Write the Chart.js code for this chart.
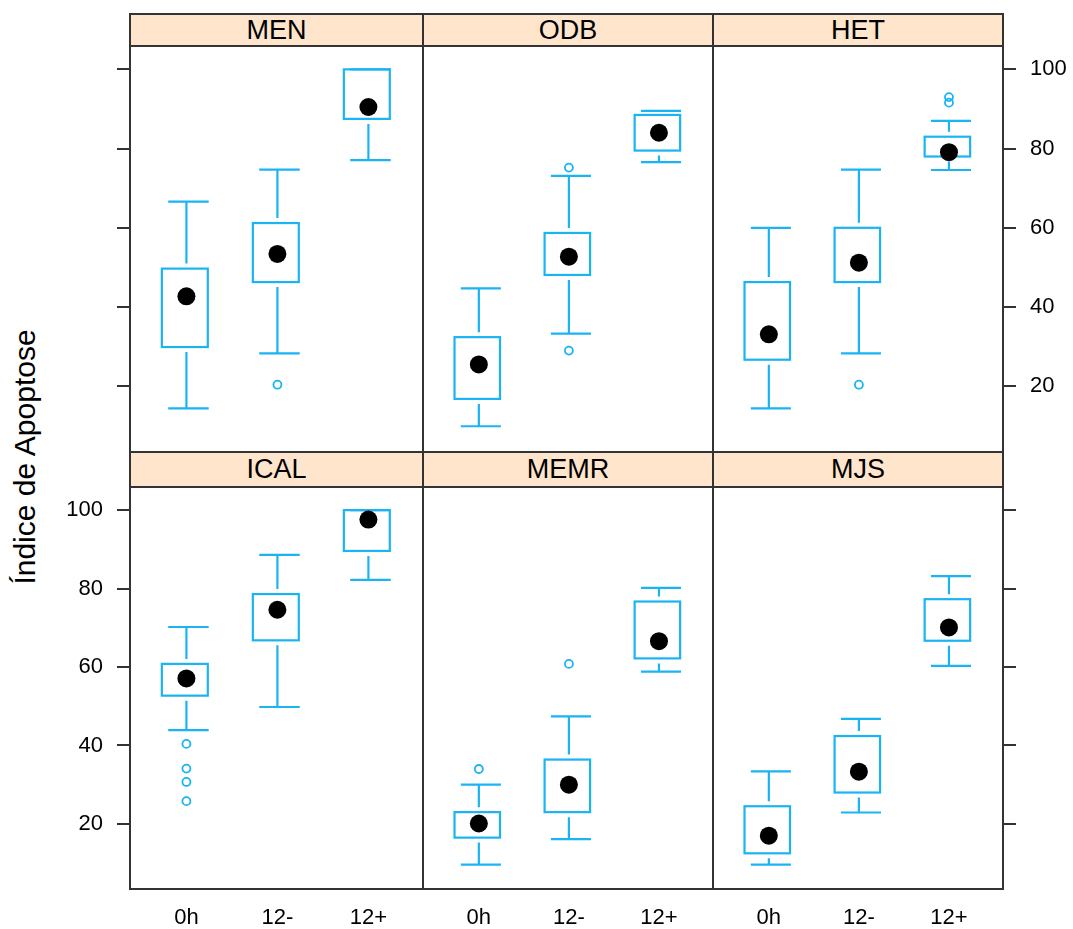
<!DOCTYPE html>
<html><head><meta charset="utf-8">
<script src="https://cdn.jsdelivr.net/npm/chart.js@4"></script>
<style>
body{margin:0;background:#fff;}
#wrap{position:relative;width:1073px;height:929px;overflow:hidden;background:#fff;font-family:"Liberation Sans",Arial,sans-serif;}
#wrap canvas{position:absolute;left:0;top:0;}
.strip{position:absolute;background:#ffe5cc;border:2px solid #333;box-sizing:border-box;text-align:center;font-size:27px;color:#000;z-index:5;}
#ylab{position:absolute;left:25px;top:457px;transform:translate(-50%,-50%) rotate(-90deg);font-size:30px;white-space:nowrap;color:#000;}
</style>
</head><body>
<div id="wrap"><div id="ylab">Índice de Apoptose</div></div>
<script>
// ---- data ----
const categories = ['0h', '12-', '12+'];
const panelNames = ['MEN', 'ODB', 'HET', 'ICAL', 'MEMR', 'MJS'];
const yTicks = [20, 40, 60, 80, 100];
// each box: [lower whisker, Q1, median, Q3, upper whisker]
const MEN_stats  = [[14.4, 29.9, 42.7, 49.7, 66.6], [28.3, 46.3, 53.4, 61.2, 74.7], [77.1, 87.5, 90.5, 100.0, 100.0]];
const ODB_stats  = [[9.9, 16.8, 25.5, 32.4, 44.7], [33.3, 48.1, 52.7, 58.7, 73.1], [76.6, 79.5, 84.0, 88.5, 89.5]];
const HET_stats  = [[14.4, 26.7, 33.1, 46.3, 60.0], [28.3, 46.3, 51.2, 60.0, 74.7], [74.6, 78.0, 79.1, 83.0, 87.0]];
const ICAL_stats = [[43.9, 52.7, 57.1, 60.8, 70.2], [49.8, 66.8, 74.6, 78.6, 88.6], [82.2, 89.6, 97.6, 100.0, 100.0]];
const MEMR_stats = [[9.6, 16.5, 20.1, 23.0, 30.0], [16.1, 23.0, 30.0, 36.4, 47.4], [58.8, 62.2, 66.6, 76.7, 80.2]];
const MJS_stats  = [[9.6, 12.5, 17.0, 24.5, 33.4], [22.9, 28.0, 33.3, 42.4, 46.8], [60.3, 66.7, 70.1, 77.3, 83.2]];
// outliers per category
const MEN_out  = [[], [20.4], []];
const ODB_out  = [[], [75.2, 29.0], []];
const HET_out  = [[], [20.4], [93.0, 91.6]];
const ICAL_out = [[40.4, 34.1, 30.7, 25.8], [], []];
const MEMR_out = [[34.0], [60.8], []];
const MJS_out  = [[], [], []];

const allStats = [MEN_stats, ODB_stats, HET_stats, ICAL_stats, MEMR_stats, MJS_stats];
const allOut = [MEN_out, ODB_out, HET_out, ICAL_out, MEMR_out, MJS_out];

// ---- layout / style ----
const W = 1073, H = 929;
const colX = [130, 423, 713, 1003];
const rowTop = [46, 487], rowBot = [452, 889];
const BLUE = '#1ab4f3';
const FRAME = '#333333';
const LEFT_AXIS_W = 90, RIGHT_AXIS_W = 70, X_AXIS_H = 40;

const wrap = document.getElementById('wrap');

const bwPlugin = {
  id: 'bw',
  beforeDatasetsDraw(chart) {
    const st = chart.options.plugins.bw.stats;
    const xs = chart.scales.x, ys = chart.scales.y;
    const ctx = chart.ctx;
    ctx.save();
    ctx.strokeStyle = BLUE;
    ctx.lineWidth = 2.2;
    const gap = 5;
    st.forEach((s, k) => {
      const c = k + 1;
      const xc = xs.getPixelForValue(c);
      const bl = xs.getPixelForValue(c - 0.27), br = xs.getPixelForValue(c + 0.235);
      const cl = xs.getPixelForValue(c - 0.2), cr = xs.getPixelForValue(c + 0.245);
      const yLo = ys.getPixelForValue(s[0]), yQ1 = ys.getPixelForValue(s[1]);
      const yQ3 = ys.getPixelForValue(s[3]), yHi = ys.getPixelForValue(s[4]);
      ctx.strokeRect(bl, yQ3, br - bl, yQ1 - yQ3);
      ctx.beginPath();
      if (yQ3 - yHi > gap) { ctx.moveTo(xc, yQ3 - gap); ctx.lineTo(xc, yHi); }
      if (yLo - yQ1 > gap) { ctx.moveTo(xc, yQ1 + gap); ctx.lineTo(xc, yLo); }
      ctx.moveTo(cl, yHi); ctx.lineTo(cr, yHi);
      ctx.moveTo(cl, yLo); ctx.lineTo(cr, yLo);
      ctx.stroke();
    });
    ctx.restore();
  },
  afterDraw(chart) {
    const a = chart.chartArea, ctx = chart.ctx;
    ctx.save();
    ctx.strokeStyle = FRAME;
    ctx.lineWidth = 2;
    ctx.strokeRect(a.left, a.top, a.right - a.left, a.bottom - a.top);
    ctx.restore();
  }
};

panelNames.forEach((name, i) => {
  const r = i < 3 ? 0 : 1, c = i % 3;
  const X0 = colX[c], X1 = colX[c + 1], Y0 = rowTop[r], Y1 = rowBot[r];

  // strip
  const strip = document.createElement('div');
  strip.className = 'strip';
  const sTop = r === 0 ? 13 : 451, sH = r === 0 ? 34 : 37;
  strip.style.left = (X0 - 1) + 'px';
  strip.style.width = (X1 - X0 + 2) + 'px';
  strip.style.top = sTop + 'px';
  strip.style.height = sH + 'px';
  strip.style.lineHeight = (sH - 4) + 'px';
  strip.textContent = name;
  wrap.appendChild(strip);

  const cv = document.createElement('canvas');
  cv.width = W; cv.height = H;
  cv.style.width = W + 'px'; cv.style.height = H + 'px';
  wrap.appendChild(cv);

  const stats = allStats[i], outs = allOut[i];
  const medians = stats.map((s, k) => ({ x: k + 1, y: s[2] }));
  const outliers = [];
  outs.forEach((arr, k) => arr.forEach(v => outliers.push({ x: k + 1, y: v })));

  const showY = c !== 1;
  const yLabels = (c === 0 && r === 1) || (c === 2 && r === 0);
  const showX = r === 1;
  const yW = showY ? (c === 2 ? RIGHT_AXIS_W : LEFT_AXIS_W) : 0;
  const xH = showX ? X_AXIS_H : 0;

  new Chart(cv, {
    type: 'scatter',
    data: {
      datasets: [
        { data: outliers, pointRadius: 4, pointBorderWidth: 1.8, borderColor: BLUE, backgroundColor: 'rgba(0,0,0,0)', pointStyle: 'circle' },
        { data: medians, pointRadius: 9, pointBorderWidth: 0, backgroundColor: '#000', borderColor: '#000', pointStyle: 'circle' }
      ]
    },
    options: {
      responsive: false,
      animation: false,
      devicePixelRatio: 1,
      layout: {
        padding: {
          left: c === 0 ? X0 - yW : X0,
          right: c === 2 ? W - X1 - yW : W - X1,
          top: Y0,
          bottom: H - Y1 - xH
        }
      },
      plugins: { legend: { display: false }, tooltip: { enabled: false }, bw: { stats: stats } },
      scales: {
        x: {
          type: 'linear', position: 'bottom', min: 0.38, max: 3.6,
          display: showX,
          afterBuildTicks: s => { s.ticks = categories.map((_, k) => ({ value: k + 1 })); },
          afterFit: s => { s.height = xH; },
          grid: { display: false, drawTicks: false },
          border: { display: false },
          ticks: { font: { family: 'Liberation Sans', size: 22 }, color: '#000', padding: 16, maxRotation: 0, autoSkip: false,
                   callback: v => categories[v - 1] ?? '' }
        },
        y: {
          type: 'linear', position: c === 2 ? 'right' : 'left', min: 3.4, max: 105.9,
          display: showY,
          afterBuildTicks: s => { s.ticks = yTicks.map(v => ({ value: v })); },
          afterFit: s => { s.width = yW; },
          grid: { drawOnChartArea: false, drawTicks: true, tickLength: 13, color: FRAME, lineWidth: 2 },
          border: { display: false },
          ticks: { font: { family: 'Liberation Sans', size: 22 }, color: '#000', padding: 14, autoSkip: false,
                   callback: v => yLabels ? String(v) : '' }
        }
      }
    },
    plugins: [bwPlugin]
  });
});
</script>
</body></html>
